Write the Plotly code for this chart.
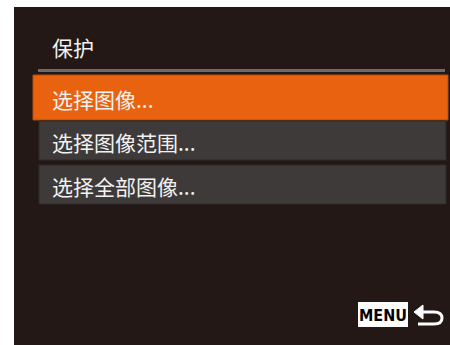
import plotly.graph_objects as go

# menu content
title_text = "保护"
menu_items = ["选择图像...", "选择图像范围...", "选择全部图像..."]
selected_index = 0
menu_key_label = "MENU"

BG = "#231815"
ORANGE = "#e96210"
ROW_GRAY = "#3e3a39"
SEP_GRAY = "#6e6b6a"
TEXT = "#f2f2f2"
CJK = "Noto Sans CJK SC"

# row boxes (x0, x1, y0, y1) in screen pixels
row_boxes = [(33, 448, 75, 120), (39, 446, 121, 160), (39, 446, 165, 204)]

fig = go.Figure()

shapes = [
    # screen panel
    dict(type="rect", x0=14, x1=450, y0=7, y1=345, fillcolor=BG, line=dict(width=0), layer="below"),
    # separator under title
    dict(type="rect", x0=38, x1=445, y0=69, y1=72, fillcolor=SEP_GRAY, line=dict(width=0)),
]

annotations = [
    dict(x=50, y=47, text=title_text, xanchor="left", yanchor="middle", showarrow=False,
         font=dict(family=CJK, size=21, color=TEXT)),
]

for i, (label, box) in enumerate(zip(menu_items, row_boxes)):
    x0, x1, y0, y1 = box
    fill = ORANGE if i == selected_index else ROW_GRAY
    edge = "#b84c08" if i == selected_index else "#2e2a29"
    shapes.append(dict(type="rect", x0=x0, x1=x1, y0=y0, y1=y1, fillcolor=fill,
                       line=dict(color=edge, width=1)))
    annotations.append(dict(x=50, y=(y0 + y1) / 2 + 1, text=label, xanchor="left", yanchor="middle",
                            showarrow=False, font=dict(family=CJK, size=21, color=TEXT)))

# MENU key icon
shapes.append(dict(type="rect", x0=358, x1=408, y0=302, y1=327, fillcolor="white",
                   line=dict(width=0)))
annotations.append(dict(x=383, y=315, text="<b>" + menu_key_label + "</b>", xanchor="center",
                        yanchor="middle", showarrow=False,
                        font=dict(family="DejaVu Sans Condensed", size=16, color="black")))

# return arrow
shapes.append(dict(type="path", path="M 422 312 L 434 312 Q 442 312 442 318 Q 442 324 434 324 L 418 324",
                   line=dict(color="white", width=3)))
shapes.append(dict(type="path", path="M 414 312 L 423 305 L 423 319 Z", fillcolor="white",
                   line=dict(color="white", width=1)))

fig.update_layout(
    width=450, height=345,
    margin=dict(l=0, r=0, t=0, b=0),
    paper_bgcolor="white", plot_bgcolor="white",
    xaxis=dict(range=[0, 450], visible=False, fixedrange=True),
    yaxis=dict(range=[345, 0], visible=False, fixedrange=True),
    shapes=shapes, annotations=annotations,
    showlegend=False,
)

fig.write_html("out.html", config={"displayModeBar": False},
               post_script="document.body.style.margin='0';")
